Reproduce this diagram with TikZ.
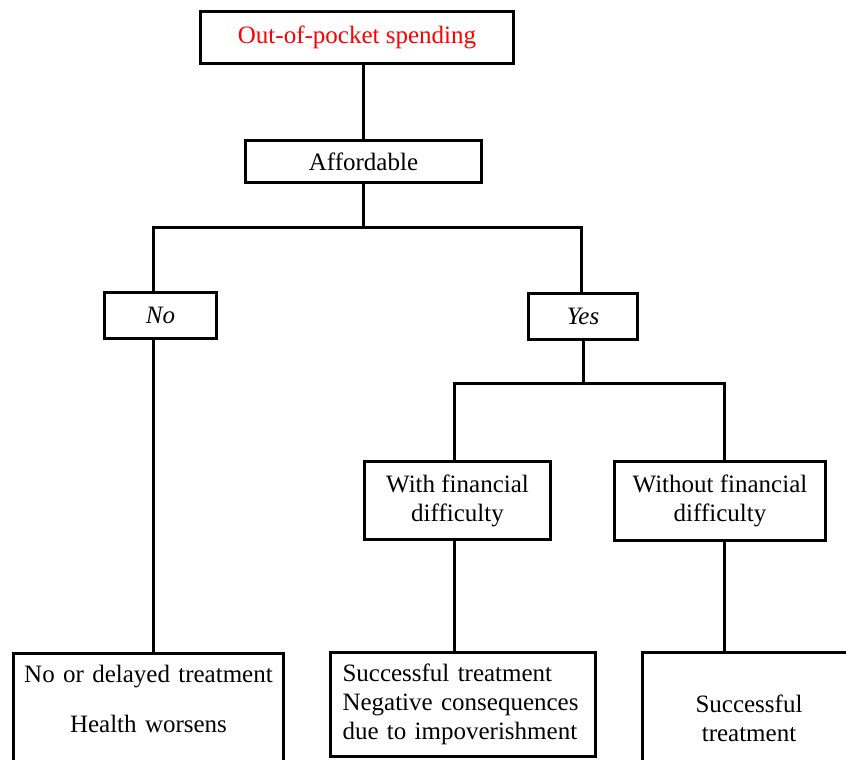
\documentclass[tikz,border=0pt]{standalone}
\usepackage{fontspec}
\setmainfont{Liberation Serif}
\begin{document}
\begin{tikzpicture}[x=1pt,y=-1pt,
  box/.style={draw, line width=3pt, inner sep=0pt, align=center,
    font=\fontsize{25}{29}\selectfont},
  conn/.style={line width=3pt}]
\useasboundingbox (0,0) rectangle (846,760);
\clip (0,0) rectangle (846,760);
\fill[white] (0,0) rectangle (846,760);
% boxes
\node[box, minimum width=313pt, minimum height=52pt, text=red] (top) at (357,37.5) {Out-of-pocket spending};
\node[box, minimum width=236pt, minimum height=42pt] (aff) at (363.5,161.5) {Affordable};
\node[box, minimum width=112pt, minimum height=46pt] (no) at (160.5,315.5) {\itshape No};
\node[box, minimum width=109pt, minimum height=46pt] (yes) at (583,316.5) {\itshape Yes};
\node[box, minimum width=186pt, minimum height=78pt] (with) at (457.5,500.5) {With financial\\difficulty};
\node[box, minimum width=211pt, minimum height=79pt] (without) at (720,501) {Without financial\\difficulty};
\node[box, anchor=base, text width=256pt, inner xsep=7pt, text height=28.5pt, text depth=120pt] (lbox) at (148.5,682)
  {No or delayed treatment\\[21pt]Health worsens};
\node[box, text width=241pt, inner xsep=12pt, align=left, minimum height=104pt] (mbox) at (463,704.5)
  {Successful treatment\\Negative consequences\\due to impoverishment};
\node[box, anchor=base, text width=200pt, inner xsep=7pt, text height=59.5pt, text depth=100pt] (rbox) at (749,712)
  {Successful\\treatment};
% junction points
\coordinate (jn) at (153,227);
\coordinate (jy) at (581,227);
\coordinate (jw) at (454,383);
\coordinate (jo) at (724,383);
% connectors
\draw[conn] (top.south -| aff.north) -- (aff.north);
\draw[conn] (aff.south) -- (aff.south |- jn);
\draw[conn] (no.north -| jn) -- (jn) -- (jy) -- (yes.north -| jy);
\draw[conn] (no.south -| jn) -- (lbox.north -| jn);
\draw[conn] (yes.south) -- (yes.south |- jw);
\draw[conn] (with.north -| jw) -- (jw) -- (jo) -- (without.north -| jo);
\draw[conn] (with.south -| jw) -- (mbox.north -| jw);
\draw[conn] (without.south -| jo) -- (rbox.north -| jo);
\end{tikzpicture}
\end{document}
